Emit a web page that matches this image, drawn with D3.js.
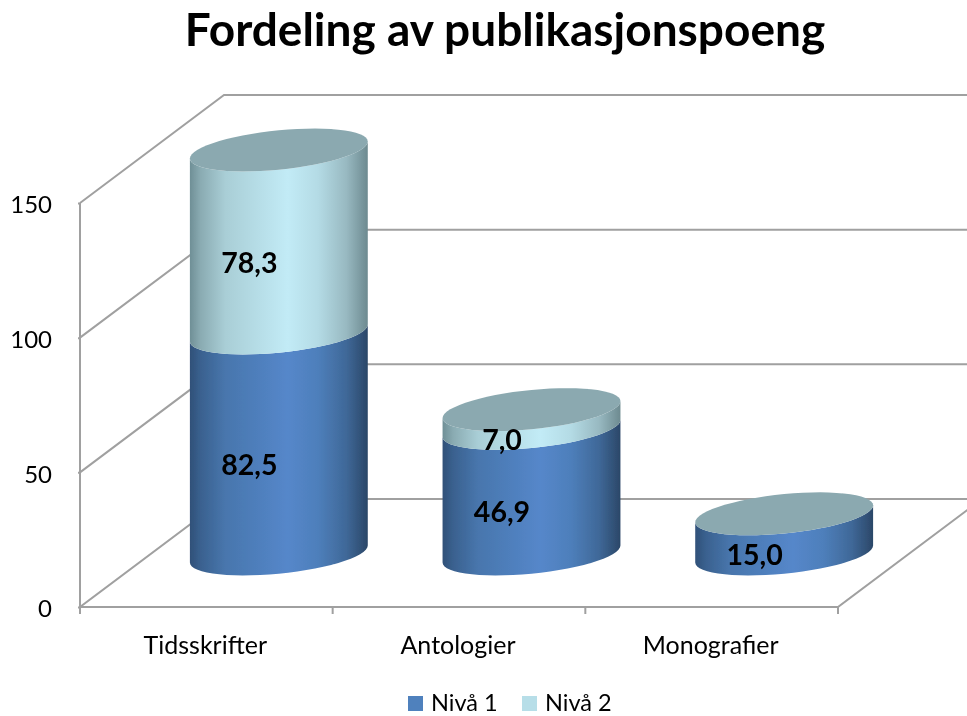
<!DOCTYPE html>
<html><head><meta charset="utf-8">
<script src="https://cdnjs.cloudflare.com/ajax/libs/d3/7.8.5/d3.min.js"></script>
<style>html,body{margin:0;padding:0;background:#fff}svg{display:block}text{font-family:Lato,"Open Sans",sans-serif;fill:#000}</style>
</head><body><svg id="c" width="967" height="716"></svg>
<script>
const titleText = "Fordeling av publikasjonspoeng";
const categories = ["Tidsskrifter", "Antologier", "Monografier"];
const seriesNames = ["Nivå 1", "Nivå 2"];
const niva1 = [82.5, 46.9, 15.0];
const niva2 = [78.3, 7.0, null];
const yTicks = [0, 50, 100, 150];

const svg = d3.select("#c");
const defs = svg.append("defs");
const fmt = v => v.toFixed(1).replace(".", ",");

const left = 80, right = 838, floorY = 607, topY = 203;
const depthX = 144, depthY = -108;
const x = d3.scaleBand().domain(categories).range([left, right]);
const y = d3.scaleLinear().domain([0, 150]).range([floorY, topY]);
// the bars stand mid-way in depth, where perspective shortens the taller stack
const yBar = d3.scaleLinear().domain([0, 82.5, 160.8]).range([554, 333, 150]);

const grid = "#a0a0a0";
const sideStops = {
  blue: [[0,"#2f5078"],[.06,"#3a618f"],[.2,"#4876ad"],[.55,"#5587ca"],[.72,"#4e7fbb"],[.88,"#3f6898"],[1,"#2b4768"]],
  light: [[0,"#6f8f96"],[.06,"#8aabb2"],[.2,"#a9ced6"],[.55,"#c2ebf6"],[.72,"#b4dbe5"],[.88,"#98b9c1"],[1,"#6d8a90"]]
};
Object.entries(sideStops).forEach(([id, st]) => {
  const g = defs.append("linearGradient").attr("id", id);
  st.forEach(s => g.append("stop").attr("offset", s[0]).attr("stop-color", s[1]));
});
defs.append("filter").attr("id","soft").append("feGaussianBlur").attr("stdDeviation",0.45);

const root = svg.append("g").attr("filter","url(#soft)");

// walls and floor
const walls = root.append("g").attr("fill","none").attr("stroke",grid).attr("stroke-width",2);
yTicks.forEach(t => {
  const yy = y(t);
  walls.append("path").attr("d", d3.line()([[left,yy],[left+depthX,yy+depthY],[967,yy+depthY]]));
});
walls.append("path").attr("d", d3.line()([[left,topY],[left,floorY],[right,floorY],[right+depthX,floorY+depthY]]));

// axes
const yAxis = d3.axisLeft(y).tickValues(yTicks).tickSize(2).tickPadding(26).tickFormat(d3.format("d"));
const gy = root.append("g").attr("transform",`translate(${left},2)`).call(yAxis);
gy.selectAll("line").attr("transform","translate(0,-2)");
const xAxis = d3.axisBottom(x).tickSize(0).tickPadding(29);
const gx = root.append("g").attr("transform",`translate(-1,${floorY})`).call(xAxis);
[gy,gx].forEach(g => {
  g.select(".domain").remove();
  g.selectAll("line").attr("stroke",grid).attr("stroke-width",2);
  g.selectAll("text").attr("font-size",g===gx?25:24).attr("font-family","Lato").attr("fill","#000");
});
gx.selectAll("text").attr("dy","0.71em");
d3.range(categories.length+1).forEach(i => {
  const xx = left + i*x.step();
  root.append("line").attr("x1",xx).attr("x2",xx).attr("y1",floorY).attr("y2",floorY+7)
    .attr("stroke",grid).attr("stroke-width",2);
});

// cylinders
const rx = x.bandwidth()*0.352, tilt = -8.5, ry = 19.7;
const angles = d3.range(0, 181, 6).map(a => a*Math.PI/180);
const pt = (cx, cy, t) => [cx + rx*Math.cos(t), cy + tilt*Math.cos(t) + ry*Math.sin(t)];
const line = d3.line();
function side(cx, y0, y1, fill){
  const lower = angles.map(t => pt(cx,y0,t));
  const upper = angles.map(t => pt(cx,y1,t)).reverse();
  root.append("path").attr("d", line(lower.concat(upper))+"Z").attr("fill",`url(#${fill})`);
}
function cap(cx, cy){
  const all = d3.range(0,360,6).map(a => pt(cx,cy,a*Math.PI/180));
  root.append("path").attr("d", line(all)+"Z").attr("fill","#8ba9b0");
}
const labels = [];
categories.forEach((c,i) => {
  const cx = x(c) + x.bandwidth()/2 + depthX/2 + 0.5;
  const a = niva1[i], b = niva2[i];
  const y0 = yBar(0), y1 = yBar(a);
  side(cx, y0, y1, "blue");
  labels.push([cx, (y0+y1)/2, a]);
  let topV = a;
  if (b != null) {
    topV = a + b;
    side(cx, y1, yBar(topV), "light");
    labels.push([cx, (y1+yBar(topV))/2, b]);
  }
  cap(cx, yBar(topV));
});
labels.forEach(l => root.append("text").attr("x",l[0]-29.5).attr("y",l[1]+31)
  .attr("text-anchor","middle").attr("font-size",28.5).attr("font-weight",700).text(fmt(l[2])));

// title
root.append("text").attr("x",505).attr("y",46).attr("text-anchor","middle")
  .attr("font-size",46).attr("font-weight",700).text(titleText);

// legend
const legendX = d3.scalePoint().domain(seriesNames).range([408,522]);
const legendFill = d3.scaleOrdinal().domain(seriesNames).range(["#4f81bd","#b7dee8"]);
seriesNames.forEach(n => {
  root.append("rect").attr("x",legendX(n)).attr("y",696).attr("width",15).attr("height",15).attr("fill",legendFill(n));
  root.append("text").attr("x",legendX(n)+23).attr("y",711).attr("font-size",23.5).text(n);
});
</script></body></html>
